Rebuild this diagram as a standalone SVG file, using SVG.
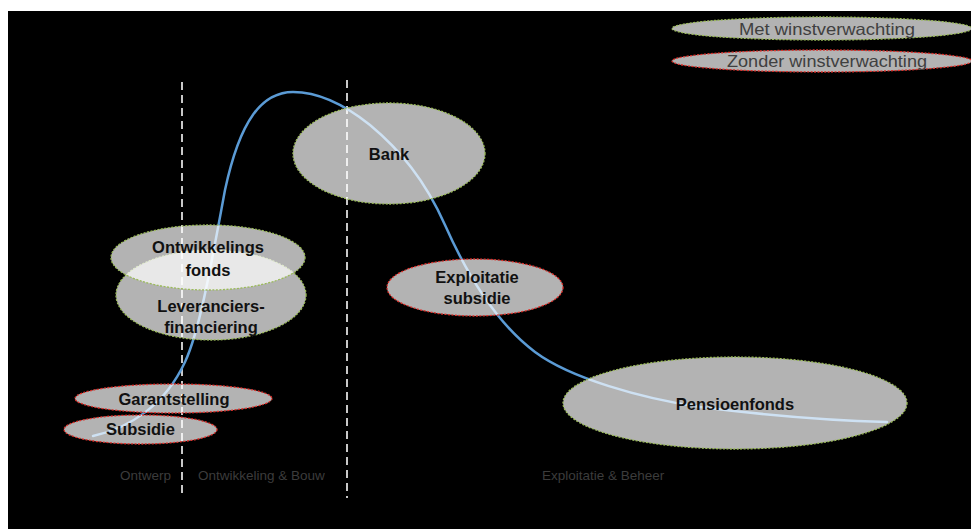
<svg xmlns="http://www.w3.org/2000/svg" width="971" height="529" viewBox="0 0 971 529">
<style>
.node{fill:#ffffff;fill-opacity:0.7;stroke-width:1.3;stroke-dasharray:2 1.5}
.met{stroke:#9bbb59}
.zonder{stroke:#e0302a}
.lbl{font-family:"Liberation Sans",Arial,sans-serif;font-weight:bold;font-size:16.5px;fill:#111111;text-anchor:middle}
.leg{font-family:"Liberation Sans",Arial,sans-serif;font-size:16.5px;fill:#404040;text-anchor:middle}
.phase{font-family:"Liberation Sans",Arial,sans-serif;font-size:13.5px;fill:#3c3c3c}
.divider{stroke:#c8c8c8;stroke-width:2;stroke-dasharray:8 5;fill:none}
.curve{fill:none;stroke:#5b9bd5;stroke-width:2.5;stroke-linecap:round}
</style>
<rect x="0" y="0" width="971" height="529" fill="#ffffff"/>
<rect x="8" y="11" width="963" height="518" fill="#000000"/>
<line class="divider" x1="182" y1="82" x2="182" y2="498"/>
<line class="divider" x1="347" y1="80" x2="347" y2="498"/>
<text class="phase" x="120" y="480">Ontwerp</text>
<text class="phase" x="198" y="480">Ontwikkeling &amp; Bouw</text>
<text class="phase" x="542" y="480">Exploitatie &amp; Beheer</text>
<g id="connectors">
<path class="curve" d="M93,436 C130,428 165,405 185,362 C200,330 212,260 225,190 C240,120 262,92 293,92 C320,92 345,105 370,125 C400,150 425,180 445,225 C465,270 495,322 535,352 C570,378 640,398 700,407 C780,417 850,421 887,422"/>
</g>
<g id="legend-met">
<ellipse class="node met" cx="822" cy="28.5" rx="150" ry="11.5"/>
<text class="leg" x="827" y="35" textLength="176" lengthAdjust="spacingAndGlyphs">Met winstverwachting</text>
</g>
<g id="legend-zonder">
<ellipse class="node zonder" cx="822" cy="61" rx="150" ry="11"/>
<text class="leg" x="827" y="67" textLength="200" lengthAdjust="spacingAndGlyphs">Zonder winstverwachting</text>
</g>
<g id="bank">
<ellipse class="node met" cx="389" cy="153.5" rx="96" ry="50.5"/>
<text class="lbl" x="389" y="160">Bank</text>
</g>
<g id="leveranciersfinanciering">
<ellipse class="node met" cx="211" cy="295" rx="95" ry="45"/>
<text class="lbl" x="211" y="312">Leveranciers-</text>
<text class="lbl" x="211" y="333">financiering</text>
</g>
<g id="ontwikkelingsfonds">
<ellipse class="node met" cx="208" cy="257.5" rx="97" ry="32.5"/>
<text class="lbl" x="208" y="253">Ontwikkelings</text>
<text class="lbl" x="208" y="276">fonds</text>
</g>
<g id="garantstelling">
<ellipse class="node zonder" cx="173.5" cy="398.5" rx="98.5" ry="14.5"/>
<text class="lbl" x="174" y="405">Garantstelling</text>
</g>
<g id="subsidie">
<ellipse class="node zonder" cx="140.5" cy="429.5" rx="76.5" ry="14.5"/>
<text class="lbl" x="140.5" y="435">Subsidie</text>
</g>
<g id="exploitatiesubsidie">
<ellipse class="node zonder" cx="475" cy="287.5" rx="88" ry="28.5"/>
<text class="lbl" x="477" y="283">Exploitatie</text>
<text class="lbl" x="477" y="304">subsidie</text>
</g>
<g id="pensioenfonds">
<ellipse class="node met" cx="735" cy="403" rx="172" ry="46"/>
<text class="lbl" x="735" y="410">Pensioenfonds</text>
</g>
</svg>
